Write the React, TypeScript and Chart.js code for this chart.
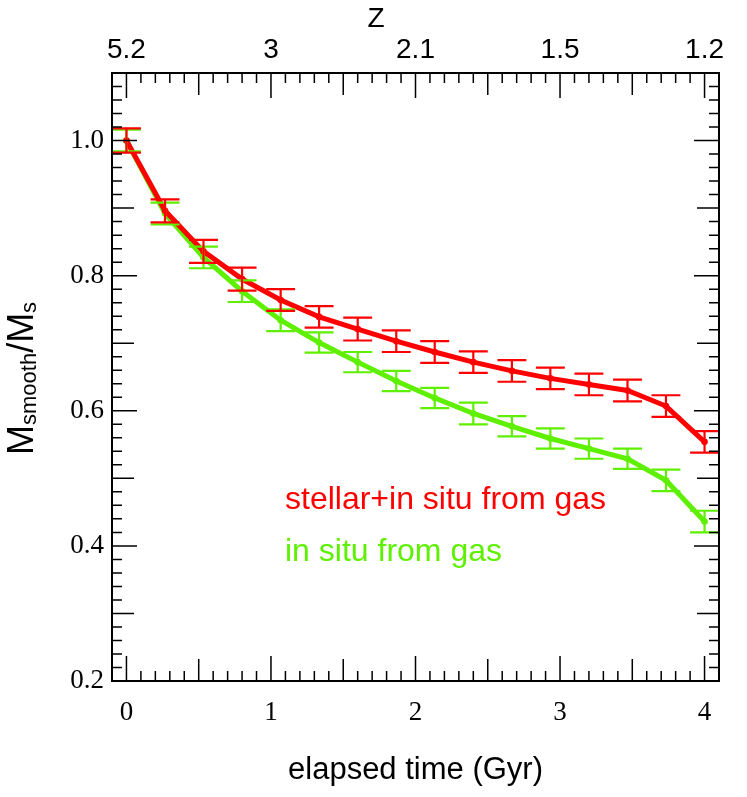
import React, { useEffect, useRef } from 'react';
import { Chart, registerables } from 'chart.js';

Chart.register(...registerables);

// elapsed time of each snapshot (Gyr)
const elapsedTime = [0, 0.267, 0.533, 0.8, 1.067, 1.333, 1.6, 1.867, 2.133, 2.4, 2.667, 2.933, 3.2, 3.467, 3.733, 4.0];

// M_smooth / M_s, stellar + in situ from gas
const stellarInSitu = [1.0, 0.896, 0.836, 0.795, 0.764, 0.739, 0.721, 0.703, 0.687, 0.672, 0.659, 0.648, 0.639, 0.630, 0.607, 0.554];
const stellarInSituErr = [0.018, 0.017, 0.017, 0.017, 0.016, 0.016, 0.017, 0.016, 0.016, 0.016, 0.016, 0.016, 0.016, 0.016, 0.016, 0.016];

// M_smooth / M_s, in situ from gas only
const inSitu = [1.0, 0.892, 0.827, 0.777, 0.734, 0.701, 0.672, 0.644, 0.619, 0.596, 0.577, 0.559, 0.544, 0.529, 0.497, 0.436];
const inSituErr = [0.016, 0.016, 0.016, 0.016, 0.016, 0.015, 0.015, 0.015, 0.015, 0.016, 0.015, 0.015, 0.015, 0.015, 0.016, 0.016];

const timeTicks = [0, 1, 2, 3, 4];
const redshiftLabels = ['5.2', '3', '2.1', '1.5', '1.2'];
const fractionTicks = [0.2, 0.4, 0.6, 0.8, 1.0];

const RED = '#ff0000';
const GREEN = '#5ef000';
const SANS = '"Liberation Sans", Arial, Helvetica, sans-serif';
const SERIF = '"Liberation Serif", "Times New Roman", serif';
const CAP_HALF = 0.1; // half-width of error bar caps, in Gyr

// frame + inward minor/major ticks on all four sides
const framePlugin = {
  id: 'frame',
  afterDraw(chart: any) {
    const { ctx, chartArea: a, scales } = chart;
    const x = scales.x;
    const y = scales.y;
    ctx.save();
    ctx.strokeStyle = '#000';
    ctx.lineWidth = 1.5;
    ctx.beginPath();
    for (let k = -1; k <= 41; k++) {
      const v = k / 10;
      const len = k % 10 === 0 ? 25 : k % 5 === 0 ? 22 : 10;
      const px = x.getPixelForValue(v);
      ctx.moveTo(px, a.bottom);
      ctx.lineTo(px, a.bottom - len);
      ctx.moveTo(px, a.top);
      ctx.lineTo(px, a.top + len);
    }
    for (let k = 10; k <= 55; k++) {
      const v = k / 50;
      const len = k % 10 === 0 ? 25 : k % 5 === 0 ? 22 : 10;
      const py = y.getPixelForValue(v);
      ctx.moveTo(a.left, py);
      ctx.lineTo(a.left + len, py);
      ctx.moveTo(a.right, py);
      ctx.lineTo(a.right - len, py);
    }
    ctx.stroke();
    ctx.lineWidth = 2;
    ctx.strokeRect(a.left, a.top, a.right - a.left, a.bottom - a.top);
    ctx.restore();
  },
};

const errorBarPlugin = {
  id: 'errorBars',
  afterDatasetsDraw(chart: any) {
    const { ctx, scales } = chart;
    const x = scales.x;
    const y = scales.y;
    const sets = [
      { vals: inSitu, errs: inSituErr, color: GREEN },
      { vals: stellarInSitu, errs: stellarInSituErr, color: RED },
    ];
    ctx.save();
    ctx.lineWidth = 2.2;
    sets.forEach((s) => {
      ctx.strokeStyle = s.color;
      elapsedTime.forEach((t, i) => {
        const px = x.getPixelForValue(t);
        const lo = y.getPixelForValue(s.vals[i] - s.errs[i]);
        const hi = y.getPixelForValue(s.vals[i] + s.errs[i]);
        const cl = x.getPixelForValue(t - CAP_HALF);
        const cr = x.getPixelForValue(t + CAP_HALF);
        ctx.beginPath();
        ctx.moveTo(px, lo);
        ctx.lineTo(px, hi);
        ctx.moveTo(cl, lo);
        ctx.lineTo(cr, lo);
        ctx.moveTo(cl, hi);
        ctx.lineTo(cr, hi);
        ctx.stroke();
      });
    });
    ctx.restore();
  },
};

// texts that chart.js can't lay out the way the figure does
const labelPlugin = {
  id: 'labels',
  afterDraw(chart: any) {
    const { ctx } = chart;
    ctx.save();
    ctx.fillStyle = '#000';
    ctx.textBaseline = 'middle';
    ctx.textAlign = 'center';
    ctx.font = `28px ${SANS}`;
    ctx.fillText('Z', 376, 19);

    // y title with subscripts, rotated
    ctx.translate(33, 455);
    ctx.rotate(-Math.PI / 2);
    ctx.textAlign = 'left';
    ctx.textBaseline = 'alphabetic';
    const big = `36px ${SANS}`;
    const small = `22px ${SANS}`;
    let cx = 0;
    const part = (txt: string, font: string, dy: number) => {
      ctx.font = font;
      ctx.fillText(txt, cx, dy);
      cx += ctx.measureText(txt).width;
    };
    part('M', big, 0);
    part('smooth', small, 3);
    part('/M', big, 0);
    part('s', small, 3);
    ctx.restore();

    ctx.save();
    ctx.font = `32px ${SANS}`;
    ctx.textAlign = 'left';
    ctx.textBaseline = 'alphabetic';
    ctx.fillStyle = RED;
    ctx.fillText('stellar+in situ from gas', 285, 509);
    ctx.fillStyle = GREEN;
    ctx.fillText('in situ from gas', 285, 561);
    ctx.restore();
  },
};

const App: React.FC = () => {
  const canvasRef = useRef<HTMLCanvasElement>(null);

  useEffect(() => {
    if (!canvasRef.current) return;
    const chart = new Chart(canvasRef.current, {
      type: 'line',
      data: {
        datasets: [
          {
            label: 'stellar+in situ from gas',
            data: elapsedTime.map((t, i) => ({ x: t, y: stellarInSitu[i] })),
            borderColor: RED,
            backgroundColor: RED,
            pointBackgroundColor: RED,
            pointBorderWidth: 0,
            borderWidth: 5,
            pointRadius: 3.3,
            tension: 0,
          },
          {
            label: 'in situ from gas',
            data: elapsedTime.map((t, i) => ({ x: t, y: inSitu[i] })),
            borderColor: GREEN,
            backgroundColor: GREEN,
            pointBackgroundColor: GREEN,
            pointBorderWidth: 0,
            borderWidth: 5,
            pointRadius: 3.3,
            tension: 0,
          },
        ],
      },
      options: {
        responsive: true,
        maintainAspectRatio: false,
        animation: false,
        layout: { padding: { left: 0, right: 28, top: 0, bottom: 0 } },
        plugins: {
          legend: { display: false },
          tooltip: { enabled: false },
        },
        scales: {
          x: {
            type: 'linear',
            position: 'bottom',
            min: -0.1,
            max: 4.1,
            afterBuildTicks: (s: any) => {
              s.ticks = timeTicks.map((v) => ({ value: v }));
            },
            afterFit: (s: any) => {
              s.height = 116;
            },
            grid: { display: false, drawTicks: false },
            border: { display: false },
            ticks: {
              color: '#000',
              padding: 16,
              maxRotation: 0,
              font: { family: SERIF, size: 27 },
              callback: (v: any) => String(v),
            },
            title: {
              display: true,
              text: 'elapsed time (Gyr)',
              color: '#000',
              font: { family: SANS, size: 31 },
              padding: { top: 0, bottom: 8 },
            },
          },
          x2: {
            type: 'linear',
            position: 'top',
            min: -0.1,
            max: 4.1,
            afterBuildTicks: (s: any) => {
              s.ticks = timeTicks.map((v) => ({ value: v }));
            },
            afterFit: (s: any) => {
              s.height = 73;
            },
            grid: { display: false, drawTicks: false },
            border: { display: false },
            ticks: {
              color: '#000',
              padding: 6,
              maxRotation: 0,
              font: { family: SANS, size: 28 },
              callback: (_v: any, i: number) => redshiftLabels[i],
            },
          },
          y: {
            type: 'linear',
            min: 0.2,
            max: 1.1,
            afterBuildTicks: (s: any) => {
              s.ticks = fractionTicks.map((v) => ({ value: v }));
            },
            afterFit: (s: any) => {
              s.width = 112;
            },
            grid: { display: false, drawTicks: false },
            border: { display: false },
            ticks: {
              color: '#000',
              padding: 8,
              font: { family: SERIF, size: 27 },
              callback: (v: any) => Number(v).toFixed(1),
            },
          },
        },
      },
      plugins: [errorBarPlugin, framePlugin, labelPlugin],
    });
    return () => chart.destroy();
  }, []);

  return (
    <div style={{ position: 'absolute', left: 0, top: 0, width: 747, height: 797, background: '#fff' }}>
      <canvas ref={canvasRef} />
    </div>
  );
};

export default App;
